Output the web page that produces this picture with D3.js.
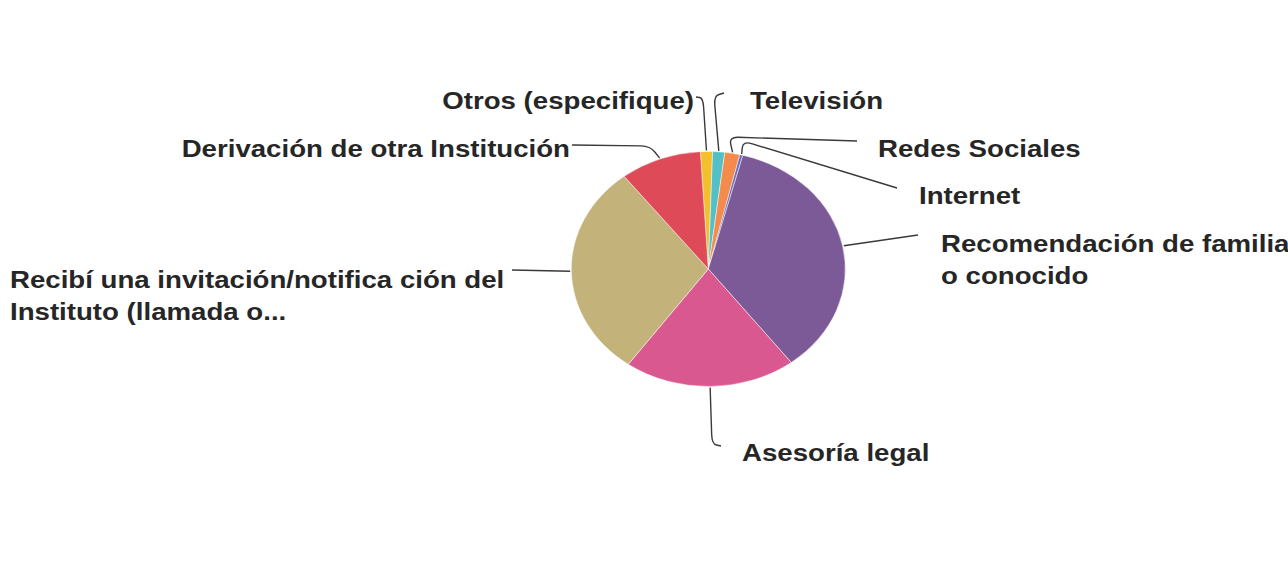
<!DOCTYPE html>
<html>
<head>
<meta charset="utf-8">
<script src="https://cdn.jsdelivr.net/npm/d3@7"></script>
<style>
  html, body { margin: 0; padding: 0; background: #ffffff; }
  svg { display: block; }
  text { font-family: "Liberation Sans", Arial, sans-serif; font-weight: bold; fill: #262626; }
</style>
</head>
<body>
<svg id="chart" width="1288" height="585"></svg>
<script>
// ---- data ----
const categories = [
  "Otros (especifique)",
  "Televisión",
  "Redes Sociales",
  "Internet",
  "Recomendación de familia o conocido",
  "Asesoría legal",
  "Recibí una invitación/notifica ción del Instituto (llamada o...",
  "Derivación de otra Institución"
];
const values = [4, 4, 5, 1, 100, 57, 83, 27];
const colors = ["#f2c02c", "#52c0c6", "#f38b4d", "#6c6cc0", "#7b5a97", "#d9588f", "#c3b27a", "#de4a58"];
const labelLines = [
  ["Otros (especifique)"],
  ["Televisión"],
  ["Redes Sociales"],
  ["Internet"],
  ["Recomendación de familia", "o conocido"],
  ["Asesoría legal"],
  ["Recibí una invitación/notifica ción del", "Instituto (llamada o..."],
  ["Derivación de otra Institución"]
];

// ---- layout (positions in picture coordinates) ----
const cx = 708.3, cy = 269, ry = 117.5, rx = 137;
const sx = rx / ry;
const startAngle = -0.058;
const fontSize = 23.7, lineGap = 32;
// label anchor: x, baseline y, text-anchor ; leader: corner point, end point
const layout = [
  {x: 694, y: 109, anchor: "end",   corner: [703, 98],  end: [696, 97]},
  {x: 750, y: 109, anchor: "start", corner: [714, 96],  end: [724, 93]},
  {x: 878, y: 157, anchor: "start", corner: [729, 137], end: [857, 141]},
  {x: 919, y: 204, anchor: "start", corner: [743, 141], end: [897, 188]},
  {x: 941, y: 252, anchor: "start", corner: null,       end: [918, 235]},
  {x: 742, y: 461, anchor: "start", corner: [712, 444], end: [721, 446]},
  {x: 10,  y: 288, anchor: "start", corner: null,       end: [512, 270]},
  {x: 570, y: 157, anchor: "end",   corner: [650, 146], end: [572, 145]}
];

const svg = d3.select("#chart");

const pie = d3.pie().sort(null).value(d => d)
  .startAngle(startAngle).endAngle(startAngle + 2 * Math.PI);
const arcs = pie(values);
const arc = d3.arc().innerRadius(0).outerRadius(ry);
const edge = d3.arc().innerRadius(ry + 1).outerRadius(ry + 1);

const pieG = svg.append("g")
  .attr("transform", `translate(${cx},${cy}) scale(${sx},1)`);
pieG.selectAll("path.slice")
  .data(arcs)
  .enter().append("path")
  .attr("class", "slice")
  .attr("d", arc)
  .attr("fill", (d, i) => colors[i])
  .attr("stroke", "#ffffff")
  .attr("stroke-width", 0.8)
  .attr("stroke-opacity", 0.6)
  .attr("vector-effect", "non-scaling-stroke");

// leader lines
function roundedPath(pts, r) {
  if (pts.length === 2) return `M${pts[0][0]},${pts[0][1]}L${pts[1][0]},${pts[1][1]}`;
  const [a, c, b] = pts;
  const d1 = Math.hypot(c[0] - a[0], c[1] - a[1]);
  const d2 = Math.hypot(b[0] - c[0], b[1] - c[1]);
  const r1 = Math.min(r, d1 * 0.5), r2 = Math.min(r, d2 * 0.5);
  const p1 = [c[0] - (c[0] - a[0]) * r1 / d1, c[1] - (c[1] - a[1]) * r1 / d1];
  const p2 = [c[0] + (b[0] - c[0]) * r2 / d2, c[1] + (b[1] - c[1]) * r2 / d2];
  return `M${a[0]},${a[1]}L${p1[0]},${p1[1]}Q${c[0]},${c[1]} ${p2[0]},${p2[1]}L${b[0]},${b[1]}`;
}

const leaders = svg.append("g");
arcs.forEach((d, i) => {
  const c = edge.centroid(d);
  const p0 = [cx + c[0] * sx, cy + c[1]];
  const L = layout[i];
  const pts = L.corner ? [p0, L.corner, L.end] : [p0, L.end];
  leaders.append("path")
    .attr("d", roundedPath(pts, 9))
    .attr("fill", "none")
    .attr("stroke", "#3a3a3a")
    .attr("stroke-width", 1.4);
});

// labels
const labelsG = svg.append("g");
arcs.forEach((d, i) => {
  const L = layout[i];
  labelLines[i].forEach((line, j) => {
    labelsG.append("text")
      .attr("transform", `translate(${L.x},${L.y + j * lineGap}) scale(${sx},1)`)
      .attr("text-anchor", L.anchor)
      .attr("font-size", fontSize)
      .text(line);
  });
});
</script>
</body>
</html>
